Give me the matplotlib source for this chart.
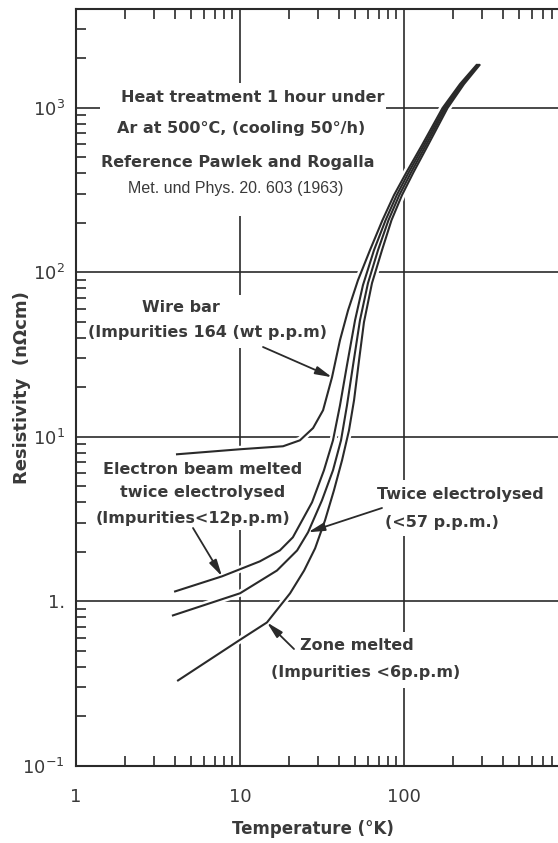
import matplotlib
matplotlib.use('Agg')
import matplotlib.pyplot as plt
from matplotlib.patches import Rectangle
from matplotlib.ticker import FixedLocator, FixedFormatter, LogLocator, NullFormatter

# Resistivity vs temperature for copper samples of different purity
# (heat treated 1 h under Ar at 500 C, Pawlek and Rogalla 1963)

wire_T = [4.13, 10.0, 18.3, 23.2, 27.9, 32.1, 36.4, 40.7, 45.6, 52.4, 62.0,
          73.9, 86.9, 103.6, 128.8, 171.7, 219.5, 276.7]
wire_rho = [7.83, 8.40, 8.76, 9.52, 11.3, 14.5, 23.0, 38.6, 58.7, 89.4, 136,
            207, 294, 405, 592, 993, 1390, 1813]

ebeam_T = [4.02, 7.77, 13.2, 17.5, 21.0, 27.5, 32.5, 36.9, 40.7, 44.9, 50.3, 56.2, 65.6,
           77.2, 90.3, 107.0, 132.4, 175.9, 223.6, 280.6]
ebeam_rho = [1.15, 1.42, 1.75, 2.04, 2.45, 4.00, 6.26, 9.52, 15.5, 27.2, 51.1, 83.4, 136,
             207, 294, 405, 592, 993, 1390, 1813]

twice_T = [3.90, 10.0, 16.8, 22.3, 26.0, 31.6, 36.9, 41.3, 44.9, 48.9, 53.9, 60.3, 69.4,
           80.4, 93.6, 110.6, 136.2, 179.8, 228.1, 284.6]
twice_rho = [0.822, 1.12, 1.54, 2.04, 2.63, 4.11, 6.26, 9.52, 15.5, 27.2, 51.1, 85.8, 136,
             207, 294, 405, 592, 993, 1390, 1813]

zone_T = [4.19, 9.86, 14.6, 20.2, 24.6, 28.7, 33.0, 37.4, 41.9, 46.2, 49.6, 53.2, 57.0, 63.8,
          73.4, 83.9, 97.2, 114.3, 140.1, 184.2, 232.3, 288.7]
zone_rho = [0.331, 0.579, 0.745, 1.12, 1.54, 2.10, 3.11, 4.73, 7.20, 10.95, 16.7, 29.2, 49.7,
            85.8, 136, 207, 294, 405, 592, 993, 1390, 1813]

x_ticks = [1, 10, 100]
x_labels = ['1', '10', '100']
y_ticks = [0.1, 1, 10, 100, 1000]
y_labels = [r'$10^{-1}$', '1.', r'$10^{1}$', r'$10^{2}$', r'$10^{3}$']

plt.rcParams['font.family'] = ['DejaVu Sans']

INK = '#2a2a2a'
TXT = '#3a3a3a'
W, H = 558, 843

fig = plt.figure(figsize=(W / 100, H / 100), dpi=100)
ax = fig.add_axes([76 / W, 1 - 766 / H, (W - 76) / W, (766 - 9.3) / H])
ax.set_xscale('log')
ax.set_yscale('log')
ax.set_xlim(1, 869)
ax.set_ylim(0.1, 3955)


def fpos(px, py):
    return (px / W, 1 - py / H)


def blank(px0, py0, px1, py1):
    # white patch so the grid breaks behind a label block
    ax.add_patch(Rectangle(fpos(px0, py1), (px1 - px0) / W, (py1 - py0) / H,
                           transform=fig.transFigure, facecolor='white',
                           edgecolor='none', zorder=1, clip_on=False))


# grid and frame
ax.set_axisbelow(True)
ax.grid(True, which='major', color=INK, lw=1.2)
ax.spines['right'].set_visible(False)
for s in ['left', 'top', 'bottom']:
    ax.spines[s].set_linewidth(1.5)
    ax.spines[s].set_color(INK)

ax.xaxis.set_major_locator(FixedLocator(x_ticks))
ax.xaxis.set_major_formatter(FixedFormatter(x_labels))
ax.yaxis.set_major_locator(FixedLocator(y_ticks))
ax.yaxis.set_major_formatter(FixedFormatter(y_labels))
ax.xaxis.set_minor_locator(LogLocator(base=10, subs=range(2, 10)))
ax.yaxis.set_minor_locator(LogLocator(base=10, subs=range(2, 10)))
ax.xaxis.set_minor_formatter(NullFormatter())
ax.yaxis.set_minor_formatter(NullFormatter())
ax.tick_params(which='minor', direction='in', length=7, width=1.2, color=INK,
               top=True, bottom=True, left=True, right=False)
ax.tick_params(which='major', length=0, labelsize=13, labelcolor=TXT)
ax.tick_params(axis='x', which='major', pad=16)
ax.tick_params(axis='y', which='major', pad=8)

# curves: white halo first so the grid is broken where they cross
curves = [(wire_T, wire_rho), (ebeam_T, ebeam_rho), (twice_T, twice_rho), (zone_T, zone_rho)]
for T, rho in curves:
    ax.plot(T, rho, color='white', lw=5, zorder=1.8, solid_capstyle='butt')
for T, rho in curves:
    ax.plot(T, rho, color=INK, lw=1.5, zorder=2)

# label blocks
blank(100, 83, 386, 216)
blank(92, 295, 322, 348)
blank(98, 447, 306, 530)
blank(374, 480, 545, 536)
blank(266, 632, 468, 688)

lab = dict(transform=fig.transFigure, ha='center', va='center', color=TXT,
           fontsize=11.5, fontweight='bold', zorder=3)
fig.text(*fpos(253, 98), 'Heat treatment 1 hour under', **lab)
fig.text(*fpos(241, 128), 'Ar at 500°C, (cooling 50°/h)', **lab)
fig.text(*fpos(238, 162), 'Reference Pawlek and Rogalla', **lab)
fig.text(*fpos(236, 188), 'Met. und Phys. 20. 603 (1963)', transform=fig.transFigure,
         ha='center', va='center', color=TXT, fontsize=11.5,
         family=['Liberation Sans', 'DejaVu Sans'])

fig.text(*fpos(181, 308), 'Wire bar', **lab)
fig.text(*fpos(207, 332), '(Impurities 164 (wt p.p.m)', **lab)
fig.text(*fpos(203, 470), 'Electron beam melted', **lab)
fig.text(*fpos(203, 493), 'twice electrolysed', **lab)
fig.text(*fpos(193, 518), '(Impurities<12p.p.m)', **lab)
fig.text(*fpos(460, 494), 'Twice electrolysed', **lab)
fig.text(*fpos(442, 522), '(<57 p.p.m.)', **lab)
fig.text(*fpos(357, 645), 'Zone melted', **lab)
fig.text(*fpos(366, 672), '(Impurities <6p.p.m)', **lab)

# arrows from each label to its curve
arrow = dict(arrowstyle='-|>,head_length=0.9,head_width=0.22', mutation_scale=11,
             color=INK, lw=1.3, shrinkA=0, shrinkB=0)
ax.annotate('', xy=(wire_T[6], wire_rho[6]), xytext=fpos(263, 347),
            textcoords='figure fraction', arrowprops=arrow, zorder=3)
ax.annotate('', xy=(ebeam_T[1], ebeam_rho[1]), xytext=fpos(193, 528),
            textcoords='figure fraction', arrowprops=arrow, zorder=3)
ax.annotate('', xy=(twice_T[4], twice_rho[4]), xytext=fpos(382, 508),
            textcoords='figure fraction', arrowprops=arrow, zorder=3)
ax.annotate('', xy=(zone_T[2], zone_rho[2]), xytext=fpos(294, 649),
            textcoords='figure fraction', arrowprops=arrow, zorder=3)

fig.text(*fpos(313, 829), 'Temperature (°K)', transform=fig.transFigure, ha='center',
         va='center', color=TXT, fontsize=12, fontweight='bold')
fig.text(*fpos(22, 388), 'Resistivity  (nΩcm)', transform=fig.transFigure, ha='center',
         va='center', color=TXT, fontsize=13, fontweight='bold', rotation=90)

fig.savefig('out.png', dpi=100, facecolor='white')
